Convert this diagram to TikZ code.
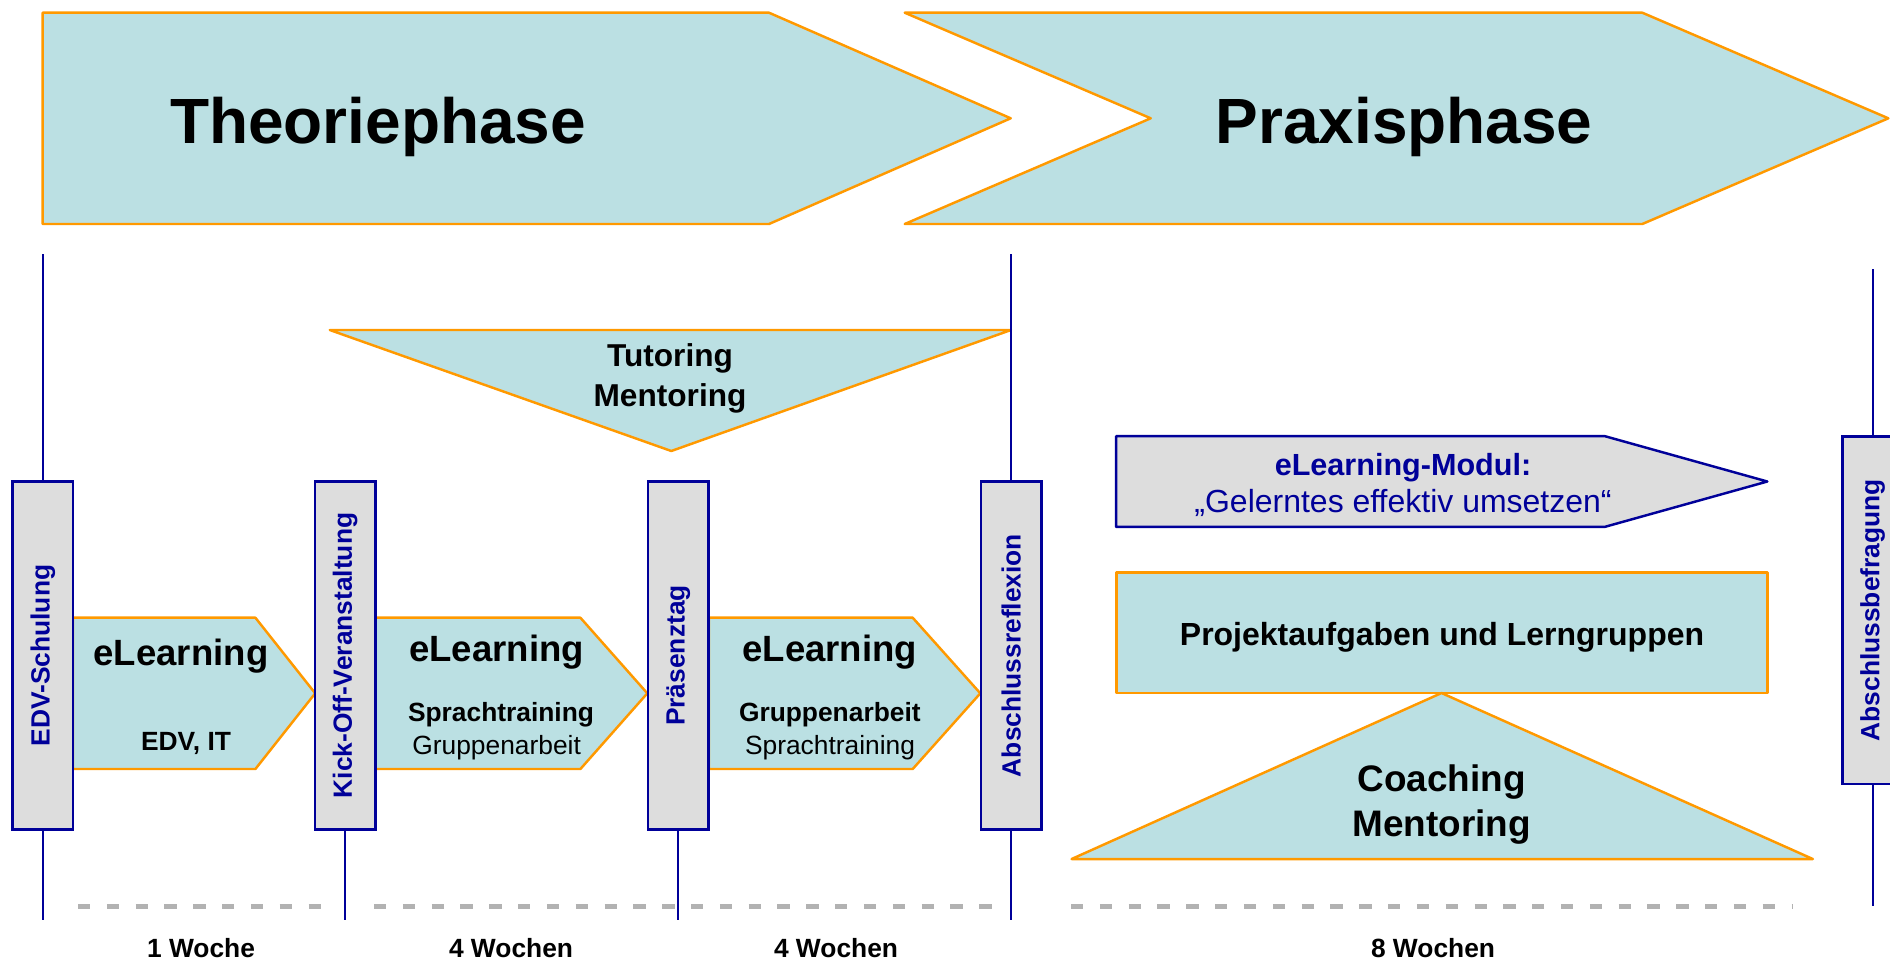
\documentclass[tikz,border=0pt]{standalone}
\usepackage{fontspec}
\setmainfont{Liberation Sans}
\definecolor{tuerkis}{RGB}{187,224,227}
\definecolor{orangerand}{RGB}{255,153,0}
\definecolor{grau}{RGB}{221,221,221}
\definecolor{dunkelblau}{RGB}{0,0,153}
\definecolor{strich}{RGB}{178,178,178}
\begin{document}
\begin{tikzpicture}[x=0.1mm,y=-0.1mm,
  phase/.style={fill=tuerkis,draw=orangerand,line width=0.7pt,line join=round},
  modul/.style={fill=grau,draw=dunkelblau,line width=0.7pt,line join=round},
  marke/.style={draw=dunkelblau,fill=grau,line width=0.7pt,rotate=90,minimum width=34.76mm,minimum height=6.05mm,inner sep=0pt,text=dunkelblau,font=\bfseries\fontsize{7.5}{9}\selectfont},
  zeitlinie/.style={draw=dunkelblau,line width=0.6pt},
  woche/.style={draw=strich,line width=1.4pt,dash pattern=on 3.5pt off 4.7pt},
  titel/.style={anchor=base,font=\bfseries\fontsize{18.2}{22}\selectfont},
  gross/.style={anchor=base,font=\bfseries\fontsize{10.4}{12}\selectfont},
  mittel/.style={anchor=base,font=\bfseries\fontsize{9}{11}\selectfont},
  klein/.style={anchor=base,font=\bfseries\fontsize{7.5}{9}\selectfont},
  kleinn/.style={anchor=base,font=\fontsize{7.5}{9}\selectfont}]
\useasboundingbox (0,0) rectangle (1890,960);
% Theoriephase
\draw[phase] (42.7,12.7) -- (769,12.7) -- (1010.7,118.3) -- (769,224) -- (42.7,224) -- cycle;
% Praxisphase
\draw[phase] (904.7,12.7) -- (1642.3,12.7) -- (1888.3,118.3) -- (1642.3,224) -- (904.7,224) -- (1150.7,118.3) -- cycle;
\node[titel] (theorie) at (378,143.3) {Theoriephase};
\node[titel] (praxis) at (1404,143.3) {Praxisphase};
% Tutoring
\draw[phase] (329.8,330) -- (1011,330) -- (671.3,451) -- cycle;
% eLearning
\draw[phase] (72.8,617.7) -- (255.4,617.7) -- (315.2,693.3) -- (255.4,769) -- (72.8,769) -- cycle;
\draw[phase] (375.4,617.7) -- (580.4,617.7) -- (647.3,693.3) -- (580.4,769) -- (375.4,769) -- cycle;
\draw[phase] (709,617.7) -- (912.7,617.7) -- (980.3,693.3) -- (912.7,769) -- (709,769) -- cycle;
% Modul
\draw[modul] (1116,436.2) -- (1605,436.2) -- (1767.3,481.5) -- (1605,526.8) -- (1116,526.8) -- cycle;
% Projekt
\draw[phase] (1116.7,572.3) rectangle (1767.3,693);
% Coaching
\draw[phase] (1071.6,859) -- (1441.5,693) -- (1812.8,859) -- cycle;
% Wochen
\draw[woche] (78,906.5) -- (325,906.5);
\draw[woche] (374,906.5) -- (1003,906.5);
\draw[woche] (1071,906.5) -- (1792,906.5);
% Termine
\node[marke] (edv) at (42.8,655.5) {EDV-Schulung};
\node[marke] (kick) at (345.2,655.5) {Kick-Off-Veranstaltung};
\node[marke] (praesenz) at (678.3,655.5) {Präsenztag};
\node[marke] (reflexion) at (1011.2,655.5) {Abschlussreflexion};
\node[marke] (befragung) at (1872.7,610.2) {Abschlussbefragung};
\coordinate (edvO) at (42.8,254);
\coordinate (edvU) at (42.8,920);
\coordinate (kickU) at (345.2,920);
\coordinate (praesenzU) at (678.3,920);
\coordinate (reflexionO) at (1011.2,254);
\coordinate (reflexionU) at (1011.2,920);
\coordinate (befragungO) at (1872.7,269);
\coordinate (befragungU) at (1872.7,905.7);
\draw[zeitlinie] (edvO) -- (edv) -- (edvU);
\draw[zeitlinie] (kick) -- (kickU);
\draw[zeitlinie] (praesenz) -- (praesenzU);
\draw[zeitlinie] (reflexionO) -- (reflexion) -- (reflexionU);
\draw[zeitlinie] (befragungO) -- (befragung) -- (befragungU);
% Texte
\node[mittel] (tut1) at (670,366.7) {Tutoring};
\node[mittel] (tut2) at (670,406.7) {Mentoring};
\node[gross] (el1) at (181,665) {eLearning};
\node[klein] (edvit) at (186,750) {EDV, IT};
\node[gross] (el2) at (496.6,661.7) {eLearning};
\node[klein] (sp2) at (501,721.7) {Sprachtraining};
\node[kleinn] (gr2) at (496.6,754) {Gruppenarbeit};
\node[gross] (el3) at (829.7,661.7) {eLearning};
\node[klein] (gr3) at (829.8,721.7) {Gruppenarbeit};
\node[kleinn] (sp3) at (830,754) {Sprachtraining};
\node[anchor=base,text=dunkelblau,font=\bfseries\fontsize{8.7}{10}\selectfont] (modul1) at (1403,475) {eLearning-Modul:};
\node[anchor=base,text=dunkelblau,font=\fontsize{9.1}{11}\selectfont] (modul2) at (1403,512.7) {„Gelerntes effektiv umsetzen“};
\node[anchor=base,font=\bfseries\fontsize{9.1}{11}\selectfont] (projekt) at (1442,645) {Projektaufgaben und Lerngruppen};
\node[anchor=base,font=\bfseries\fontsize{10.5}{12}\selectfont] (coach1) at (1441.7,791.7) {Coaching};
\node[anchor=base,font=\bfseries\fontsize{10.5}{12}\selectfont] (coach2) at (1441.7,836.7) {Mentoring};
\node[klein] (w1) at (201,957.8) {1 Woche};
\node[klein] (w2) at (511,957.8) {4 Wochen};
\node[klein] (w3) at (836,957.8) {4 Wochen};
\node[klein] (w4) at (1433,957.8) {8 Wochen};
\end{tikzpicture}
\end{document}
